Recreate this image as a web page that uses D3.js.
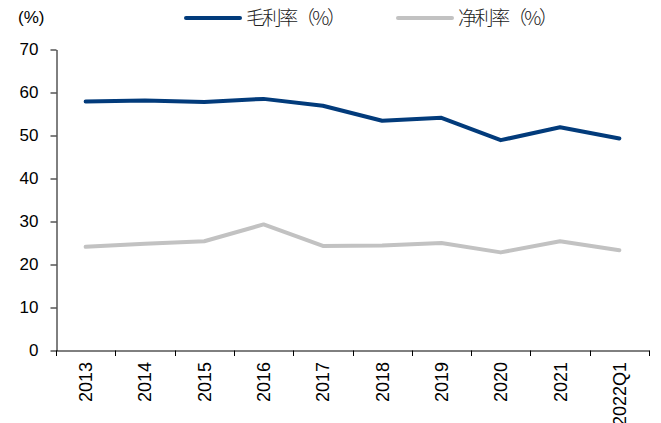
<!DOCTYPE html>
<html>
<head>
<meta charset="utf-8">
<script src="https://cdn.jsdelivr.net/npm/d3@7"></script>
<style>
  body { margin: 0; background: #fff; }
  text { font-family: Arial, "Liberation Sans", sans-serif; fill: #000; }
</style>
</head>
<body>
<div class="chart"></div>
<script>
// data
var years = ["2013", "2014", "2015", "2016", "2017", "2018", "2019", "2020", "2021", "2022Q1"];
var grossMargin = [57.8, 58.0, 57.7, 58.4, 56.8, 53.3, 54.0, 48.8, 51.8, 49.2];
var netMargin = [24.0, 24.7, 25.3, 29.2, 24.2, 24.3, 24.9, 22.7, 25.3, 23.2];
var yTicks = [0, 10, 20, 30, 40, 50, 60, 70];
var seriesNames = ["毛利率（%）", "净利率（%）"];
var colors = ["#023b7b", "#c2c2c2"];

var width = 661;
var height = 423;

var svg = d3.select(".chart")
  .append("svg")
    .attr("width", width)
    .attr("height", height);

var x = d3.scaleBand()
  .domain(years)
  .range([56, 649]);

var y = d3.scaleLinear()
  .domain([0, 70])
  .range([350, 49]);

// y axis
svg.append("g")
  .attr("transform", "translate(56.5,0.5)")
  .call(d3.axisLeft(y).tickValues(yTicks).tickSize(6).tickPadding(12).tickSizeOuter(0))
  .call(g => g.select(".domain").attr("stroke", "#000"))
  .call(g => g.selectAll(".tick line").attr("stroke", "#000"))
  .call(g => g.selectAll("text").style("font-size", "17px").attr("fill", "#000"));

// x axis, ticks on band edges
svg.append("g")
  .attr("transform", "translate(0,350.5)")
  .call(d3.axisBottom(x).tickSize(0).tickSizeOuter(0).tickFormat(""))
  .call(g => g.select(".domain").attr("stroke", "#000"));

var edges = years.map(function(d) { return x(d); }).concat([x.range()[1]]);
svg.append("g")
  .selectAll("line")
  .data(edges)
  .enter()
  .append("line")
    .attr("x1", function(d) { return Math.round(d) + 0.5; })
    .attr("x2", function(d) { return Math.round(d) + 0.5; })
    .attr("y1", 350.5)
    .attr("y2", 356)
    .attr("stroke", "#000");

svg.append("g")
  .selectAll("text")
  .data(years)
  .enter()
  .append("text")
    .attr("transform", function(d) { return "translate(" + (x(d) + x.bandwidth() / 2 + 6.5) + ",362) rotate(-90)"; })
    .attr("text-anchor", "end")
    .style("font-size", "18px")
    .text(function(d) { return d; });

// lines
var line = d3.line()
  .x(function(d, i) { return x(years[i]) + x.bandwidth() / 2; })
  .y(function(d) { return y(d); });

[grossMargin, netMargin].forEach(function(s, k) {
  svg.append("path")
    .datum(s)
    .attr("fill", "none")
    .attr("stroke", colors[k])
    .attr("stroke-width", 4)
    .attr("stroke-linecap", "round")
    .attr("stroke-linejoin", "round")
    .attr("d", line);
});

// unit label
svg.append("text")
  .attr("x", 18)
  .attr("y", 23)
  .style("font-size", "17px")
  .text("(%)");

// legend
var legendX = [186, 398];
var legend = svg.append("g")
  .selectAll("g")
  .data(seriesNames)
  .enter()
  .append("g")
    .attr("transform", function(d, i) { return "translate(" + legendX[i] + ",18)"; });

legend.append("line")
  .attr("x1", 0)
  .attr("x2", 54)
  .attr("stroke", function(d, i) { return colors[i]; })
  .attr("stroke-width", 4)
  .attr("stroke-linecap", "round");

legend.append("text")
  .attr("x", 60)
  .attr("y", 7)
  .attr("textLength", 100)
  .style("font-family", "'Noto Sans CJK SC', sans-serif")
  .style("font-size", "19px")
  .style("font-weight", 300)
  .style("fill", "#222")
  .text(function(d) { return d; });
</script>
</body>
</html>
